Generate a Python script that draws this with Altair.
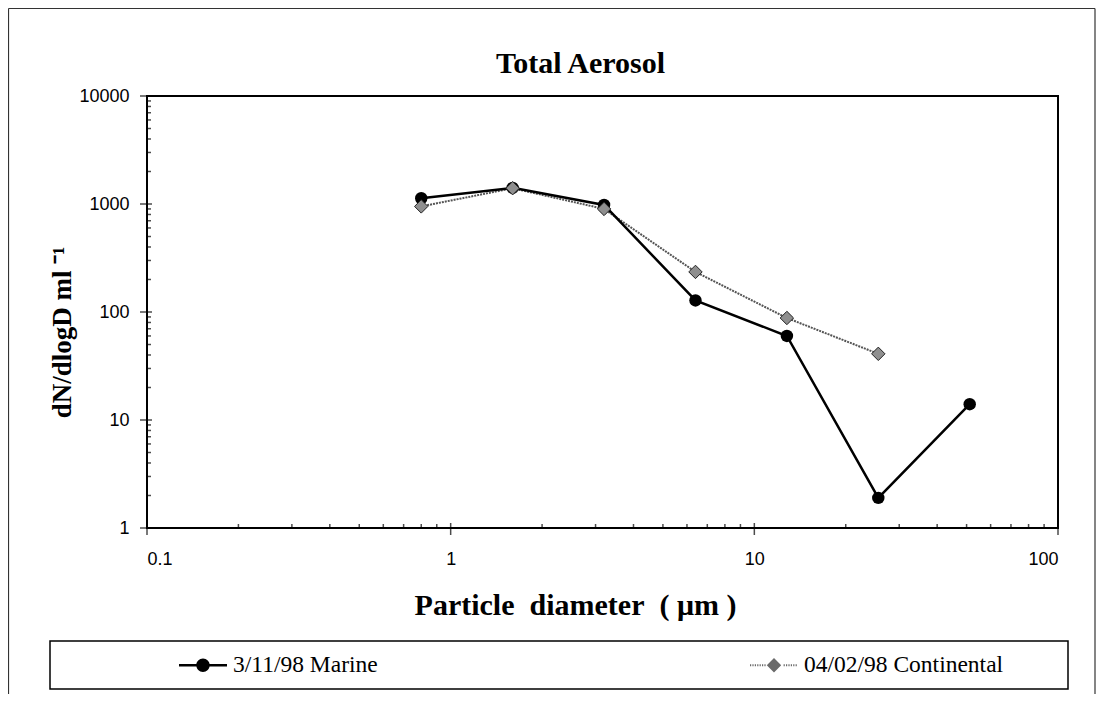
import altair as alt
import pandas as pd

# ---- data ----
diam_marine = [0.8, 1.6, 3.2, 6.4, 12.8, 25.6, 51.2]
dn_marine = [1130, 1410, 980, 128, 60, 1.9, 14]
diam_cont = [0.8, 1.6, 3.2, 6.4, 12.8, 25.6]
dn_cont = [950, 1400, 900, 235, 88, 41]
series_names = ["3/11/98 Marine", "04/02/98 Continental"]
x_tick_values = [0.1, 1, 10, 100]
y_tick_values = [1, 10, 100, 1000, 10000]
minor_mult = [2, 3, 4, 5, 6, 7, 8, 9]

W, H = 911, 432
SERIF = "Liberation Serif"
SANS = "Liberation Sans"

df = pd.concat([
    pd.DataFrame({"d": diam_marine, "v": dn_marine, "series": series_names[0]}),
    pd.DataFrame({"d": diam_cont, "v": dn_cont, "series": series_names[1]}),
], ignore_index=True)

x_minor = [m * 10 ** e for e in (-1, 0, 1) for m in minor_mult]
y_minor = [m * 10 ** e for e in (0, 1, 2, 3) for m in minor_mult]
x_major_df = pd.DataFrame({"d": x_tick_values})
x_minor_df = pd.DataFrame({"d": x_minor})
y_major_df = pd.DataFrame({"v": y_tick_values})
y_minor_df = pd.DataFrame({"v": y_minor})

xscale = alt.Scale(type="log", domain=[0.1, 100], nice=False)
yscale = alt.Scale(type="log", domain=[1, 10000], nice=False)

xaxis = alt.Axis(
    values=x_tick_values, format="~g", ticks=False, domain=False, grid=False,
    labelFont=SANS, labelFontSize=18, labelColor="black", labelPadding=22,
    title="Particle\u00a0 diameter\u00a0 (\u00a0\u03bcm\u00a0)",
    titleFont=SERIF, titleFontSize=30, titleFontWeight="bold", titleColor="black",
    titleX=428, titleY=86, titleBaseline="alphabetic", titleAlign="center",
)
yaxis = alt.Axis(
    values=y_tick_values, format="~g", ticks=False, domain=False, grid=False,
    labelFont=SANS, labelFontSize=18, labelColor="black", labelPadding=18,
    title="dN/dlogD ml \u207b\u00b9",
    titleFont=SERIF, titleFontSize=27, titleFontWeight="bold", titleColor="black",
    titleX=-85, titleY=236, titleAngle=-90, titleAlign="center", titleBaseline="middle",
)

def X():
    return alt.X("d:Q", scale=xscale, axis=xaxis)

def Y():
    return alt.Y("v:Q", scale=yscale, axis=yaxis)

base = alt.Chart(df)
marine = base.transform_filter(alt.datum.series == series_names[0])
cont = base.transform_filter(alt.datum.series == series_names[1])

cont_line = cont.mark_line(color="#555555", strokeWidth=2, strokeDash=[2, 1]).encode(x=X(), y=Y())
marine_line = marine.mark_line(color="black", strokeWidth=2.5).encode(x=X(), y=Y())
marine_pts = marine.mark_circle(size=155, color="black", opacity=1).encode(x=X(), y=Y())
cont_pts = cont.mark_point(shape="diamond", filled=True, size=180, color="#8f8f8f",
                           stroke="#222222", strokeWidth=1, opacity=1).encode(x=X(), y=Y())

# legend symbols (line through marker)
marine_sym = ("M-1,-0.05H-0.25V0.05H-1Z M0.25,-0.05H1V0.05H0.25Z "
              "M-0.28,0A0.28,0.28 0 1,1 0.28,0A0.28,0.28 0 1,1 -0.28,0Z")
dots = []
xx = -1.0
while xx < 0.95:
    if abs(xx + 0.025) > 0.34:
        dots.append(f"M{xx:.3f},-0.04H{xx+0.05:.3f}V0.04H{xx:.3f}Z")
    xx += 0.1
cont_sym = " ".join(dots) + " M0,-0.3L0.3,0L0,0.3L-0.3,0Z"

leg = alt.Legend(
    title=None, orient="none", legendX=32, legendY=545, direction="horizontal",
    symbolSize=2304, symbolOpacity=1, symbolStrokeWidth=0,
    labelFont=SERIF, labelFontSize=23.5, labelColor="black", labelOffset=6,
    columnPadding=372, labelLimit=400, padding=0,
)
legend_layer = base.mark_point(filled=True, opacity=0).encode(
    x=X(), y=Y(),
    color=alt.Color("series:N", scale=alt.Scale(domain=series_names, range=["black", "#6a6a6a"]), legend=leg),
    shape=alt.Shape("series:N", scale=alt.Scale(domain=series_names, range=[marine_sym, cont_sym]), legend=leg),
)

# axis ticks: major crossing, minor inside
xt_major = alt.Chart(x_major_df).mark_tick(color="black", thickness=1.5, size=12, orient="vertical").encode(
    x=X(), y=alt.value(H + 1))
xt_minor = alt.Chart(x_minor_df).mark_tick(color="black", thickness=1.5, size=4, orient="vertical").encode(
    x=X(), y=alt.value(H - 2))
yt_major = alt.Chart(y_major_df).mark_tick(color="black", thickness=1.5, size=12, orient="horizontal").encode(
    y=Y(), x=alt.value(-1))
yt_minor = alt.Chart(y_minor_df).mark_tick(color="black", thickness=1.5, size=4, orient="horizontal").encode(
    y=Y(), x=alt.value(2))

# decorative frames
one = pd.DataFrame({"k": [0]})
frame_color = "#333333"
f_left = alt.Chart(one).mark_rule(color=frame_color, strokeWidth=1.2).encode(
    x=alt.value(-138.5), y=alt.value(-87.5), y2=alt.value(598))
f_top = alt.Chart(one).mark_rule(color=frame_color, strokeWidth=1.2).encode(
    y=alt.value(-87.5), x=alt.value(-138.5), x2=alt.value(948))
f_right = alt.Chart(one).mark_rule(color=frame_color, strokeWidth=1.2).encode(
    x=alt.value(948), y=alt.value(-87.5), y2=alt.value(598))
leg_box = alt.Chart(one).mark_rect(fill=None, stroke="black", strokeWidth=1.5).encode(
    x=alt.value(-97), x2=alt.value(921), y=alt.value(545), y2=alt.value(593))

chart = alt.layer(
    f_left, f_top, f_right, leg_box,
    xt_major, xt_minor, yt_major, yt_minor,
    cont_line, marine_line, marine_pts, cont_pts, legend_layer,
).properties(
    width=W, height=H,
    autosize=alt.AutoSizeParams(type="none"),
    padding={"left": 139, "top": 88, "right": 38, "bottom": 166},
    title=alt.TitleParams(
        "Total Aerosol", font=SERIF, fontSize=30, fontWeight="bold", color="black",
        anchor="middle", frame="group", offset=27, dx=-22, dy=98,
    ),
).configure_view(stroke="black", strokeWidth=2)

chart.save("out.html", embed_options={"renderer": "svg", "actions": False})
